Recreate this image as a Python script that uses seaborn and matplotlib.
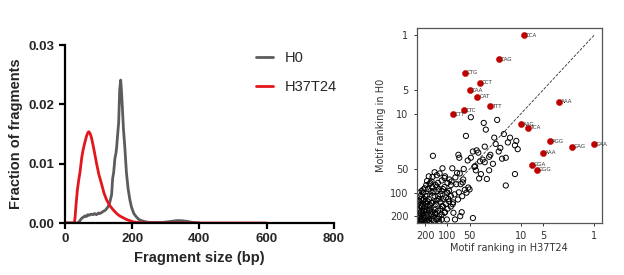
import numpy as np
import pandas as pd
import matplotlib
matplotlib.use('Agg')
import matplotlib.pyplot as plt
import seaborn as sns

# fragment size distributions
h0_size = [0, 38, 42, 46, 50, 55, 60, 64, 68, 72, 78, 84, 88, 94, 100, 104, 110, 115, 119, 124, 129,
           134, 139, 142, 145, 149, 152, 154, 157, 160, 163, 166, 168, 171, 174, 178, 183, 188, 193,
           198, 205, 213, 220, 228, 240, 252, 270, 290, 305, 320, 332, 345, 361, 380, 400]
h0_frac = [0, 0, 0.0002, 0.0005, 0.0008, 0.0010, 0.0012, 0.0011, 0.0014, 0.0013, 0.0015, 0.0014,
           0.0016, 0.0014, 0.0017, 0.0016, 0.0018, 0.0020, 0.0021, 0.0024, 0.0028, 0.0036, 0.0048,
           0.0075, 0.0085, 0.0110, 0.0118, 0.0128, 0.0150, 0.0170, 0.0225, 0.0241, 0.0225, 0.0195,
           0.0160, 0.0130, 0.0085, 0.0058, 0.0040, 0.0027, 0.0016, 0.0010, 0.0006, 0.0004, 0.0002,
           0.0001, 0.0001, 0.0001, 0.0002, 0.0003, 0.0004, 0.0004, 0.0003, 0.0001, 0]

h37_size = [0, 28, 30, 33, 37, 41, 45, 50, 54, 59, 64, 68, 71, 75, 79, 85, 90, 95, 101, 109, 116,
            124, 134, 144, 154, 163, 173, 183, 193, 203, 215, 230, 260, 300, 400, 500, 600]
h37_frac = [0, 0, 0.0008, 0.0030, 0.0055, 0.0072, 0.0086, 0.0110, 0.0123, 0.0135, 0.0146, 0.0152,
            0.0154, 0.0151, 0.0144, 0.0128, 0.0113, 0.0098, 0.0082, 0.0066, 0.0051, 0.0039, 0.0029,
            0.0022, 0.0016, 0.0012, 0.0009, 0.0006, 0.0004, 0.0002, 0.0001, 0.00005, 0, 0, 0, 0, 0]

# motif ranks, (rank in H37T24, rank in H0) for the open circles
motif_pairs = [
    (48, 11), (21, 11.9), (32, 13), (30, 15.8), (56, 19), (23, 20), (17, 18), (14, 20), (15, 23),
    (158, 34), (40, 29), (31, 26), (27, 35), (48, 36), (31, 41), (24, 43), (16, 36), (20, 30),
    (12, 25), (11.5, 22), (11, 28), (12, 58), (16, 81), (29, 67), (41, 52), (53, 39), (71, 33),
    (69, 36), (86, 49), (74, 56), (117, 49), (128, 57), (108, 62), (94, 68), (76, 78), (66, 78),
    (50, 91), (55, 100), (63, 111), (72, 122), (84, 133), (102, 100), (140, 84), (172, 75),
    (190, 71), (180, 62), (155, 96), (213, 91), (200, 111), (119, 149), (108, 177), (83, 180),
    (64, 177), (67, 199), (45, 210), (79, 219), (102, 219), (132, 214), (147, 181), (176, 165),
    (213, 190), (234, 219), (223, 149), (164, 135),
    (250, 240), (240, 230), (230, 245), (220, 235), (210, 225), (200, 240), (190, 230), (180, 220),
    (245, 210), (235, 200), (225, 215), (215, 200), (205, 210), (195, 195), (185, 205), (175, 200),
    (165, 190), (240, 185), (230, 175), (220, 180), (210, 170), (200, 175), (190, 165), (180, 170),
    (170, 160), (160, 175), (150, 165), (250, 170), (245, 155), (235, 145), (225, 150), (215, 140),
    (205, 150), (195, 140), (185, 130), (175, 145), (165, 135), (155, 130), (145, 140), (140, 125),
    (130, 120), (135, 110), (125, 105), (120, 95), (115, 90), (110, 85), (105, 115), (100, 100),
    (95, 95), (115, 120), (125, 130), (150, 110), (160, 100), (170, 95), (180, 120), (190, 110),
    (200, 130), (210, 120), (220, 125), (230, 120), (240, 130), (250, 125), (255, 140), (245, 100),
    (235, 110), (225, 95), (215, 100), (205, 88), (195, 80), (185, 90), (175, 78), (165, 72),
    (160, 85), (145, 80), (135, 75), (130, 90), (120, 70), (110, 65), (100, 75), (90, 80),
    (140, 60), (150, 55), (160, 63), (250, 255), (255, 230), (235, 255), (215, 250), (195, 255),
    (175, 240), (155, 230), (140, 215), (130, 200), (120, 190), (110, 180), (100, 160), (90, 150),
    (85, 140), (95, 130), (105, 140), (115, 150), (125, 160), (135, 170), (145, 185), (155, 200),
    (165, 215), (145, 250), (130, 235), (120, 220),
    (88, 72), (78, 64), (68, 57), (60, 50), (36, 40), (42, 46), (38, 31), (33, 38), (26, 33),
    (19, 27), (27, 52), (35, 58), (61, 68), (43, 47), (90, 110), (58, 92), (52, 86), (97, 120),
    (80, 105), (70, 99), (62, 74), (37, 66), (45, 30), (22, 24), (18, 37),
]

# highlighted motifs
top_label = ['CCA', 'CAG', 'CTG', 'CCT', 'CAA', 'CAT', 'AAA', 'TTT', 'CTC', 'CTT', 'AAG', 'TCA',
             'AGG', 'GAG', 'GAA', 'AAA', 'GGA', 'GGG']
top_h37 = [9, 20, 58, 36, 50, 39, 3, 26, 60, 85, 10, 8, 4, 2, 1, 5, 7, 6]
top_h0 = [1, 2, 3, 4, 5, 6, 7, 8, 9, 10, 13.5, 15, 22, 26, 24, 31, 44, 51]

sns.set_style('ticks')
plt.rcParams['font.family'] = ['DejaVu Sans']

fig = plt.figure(figsize=(6.24, 2.75), dpi=100)

# ---- left panel: fragment size distribution
ax1 = fig.add_axes([0.104, 0.189, 0.431, 0.647])
df_h0 = pd.DataFrame({'size': h0_size, 'frac': h0_frac})
df_h37 = pd.DataFrame({'size': h37_size, 'frac': h37_frac})
sns.lineplot(data=df_h0, x='size', y='frac', color='#5c5c5c', lw=2.0, label='H0', ax=ax1)
sns.lineplot(data=df_h37, x='size', y='frac', color='#e3161c', lw=2.0, label='H37T24', ax=ax1)
ax1.set_xlim(0, 800)
ax1.set_ylim(0, 0.03)
ax1.set_xticks([0, 200, 400, 600, 800])
ax1.set_yticks([0, 0.01, 0.02, 0.03])
ax1.set_yticklabels(['0.00', '0.01', '0.02', '0.03'])
for lab in ax1.get_xticklabels() + ax1.get_yticklabels():
    lab.set_fontfamily('Liberation Sans')
    lab.set_fontweight('bold')
    lab.set_fontsize(9.5)
ax1.set_xlabel('Fragment size (bp)', fontfamily='Liberation Sans', fontweight='bold', fontsize=10.5)
ax1.set_ylabel('Fraction of fragments', fontfamily='Liberation Sans', fontweight='bold', fontsize=10.5)
sns.despine(ax=ax1)
for s in ['left', 'bottom']:
    ax1.spines[s].set_linewidth(1.6)
    ax1.spines[s].set_color('black')
ax1.tick_params(width=1.6, length=4, color='black')
leg = ax1.legend(loc='upper left', bbox_to_anchor=(0.66, 1.04), frameon=False, handlelength=1.2,
                 handletextpad=0.8, labelspacing=1.0, prop={'family': 'Liberation Sans', 'size': 10.5})

# ---- right panel: motif ranking
ax2 = fig.add_axes([0.668, 0.189, 0.296, 0.709])
df_all = pd.DataFrame(motif_pairs, columns=['h37', 'h0'])
sns.scatterplot(data=df_all, x='h37', y='h0', marker='o', s=14, facecolor='none',
                edgecolor='black', linewidth=0.7, ax=ax2)
df_top = pd.DataFrame({'h37': top_h37, 'h0': top_h0, 'motif': top_label})
sns.scatterplot(data=df_top, x='h37', y='h0', s=20, color='#c00000', edgecolor='#c00000',
                linewidth=0.3, ax=ax2, zorder=3)
for _, r in df_top.iterrows():
    ax2.annotate(r['motif'], (r['h37'], r['h0']), xytext=(1.5, -1.2), textcoords='offset points',
                 fontsize=4.0, color='#333333')
ax2.plot([1, 250], [1, 250], ls='--', color='#333333', lw=0.6, zorder=1)
ax2.set_xscale('log')
ax2.set_yscale('log')
ax2.set_xlim(262, 0.79)
ax2.set_ylim(243, 0.81)
ticks = [1, 5, 10, 50, 100, 200]
ax2.set_xticks([200, 100, 50, 10, 5, 1])
ax2.set_xticklabels(['200', '100', '50', '10', '5', '1'])
ax2.set_yticks(ticks)
ax2.set_yticklabels([str(t) for t in ticks])
ax2.minorticks_off()
ax2.tick_params(labelsize=7, length=2.5, width=0.7, colors='#333333')
ax2.set_xlabel('Motif ranking in H37T24', fontsize=7, color='#333333', labelpad=1)
ax2.set_ylabel('Motif ranking in H0', fontsize=7, color='#333333', labelpad=3)
for s in ax2.spines.values():
    s.set_color('#555555')
    s.set_linewidth(0.9)

fig.savefig('out.png', dpi=100)
